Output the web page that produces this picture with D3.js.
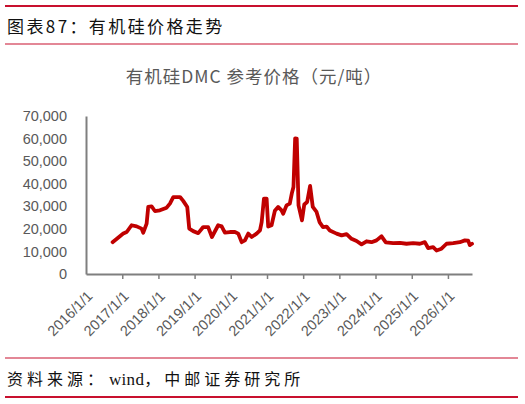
<!DOCTYPE html>
<html>
<head>
<meta charset="utf-8">
<script src="https://cdn.jsdelivr.net/npm/d3@7"></script>
<style>
    body { margin: 0; background: #fff; }
    svg { display: block; }
</style>
</head>
<body>
<script>
"use strict";

// DMC price, yuan/ton
const dates = [
    "2016-09-25", "2016-11-20", "2017-01-11", "2017-02-15", "2017-04-05", "2017-05-26",
    "2017-07-15", "2017-08-01", "2017-09-04", "2017-09-20", "2017-10-24", "2017-11-26",
    "2018-01-16", "2018-03-25", "2018-04-27", "2018-05-31", "2018-08-07", "2018-09-08",
    "2018-10-19", "2018-11-08", "2018-12-18", "2019-02-07", "2019-03-29", "2019-05-18",
    "2019-06-25", "2019-08-27", "2019-10-01", "2019-11-03", "2019-12-23", "2020-02-12",
    "2020-03-17", "2020-04-20", "2020-05-23", "2020-06-26", "2020-07-30", "2020-09-18",
    "2020-10-22", "2020-11-08", "2020-12-01", "2020-12-28", "2021-01-13", "2021-02-16",
    "2021-03-21", "2021-04-23", "2021-05-28", "2021-06-13", "2021-07-17", "2021-08-19",
    "2021-09-10", "2021-09-25", "2021-10-12", "2021-10-28", "2021-11-15", "2021-12-20",
    "2022-01-12", "2022-02-10", "2022-03-12", "2022-04-08", "2022-05-16", "2022-06-15",
    "2022-07-20", "2022-08-25", "2022-09-27", "2022-12-04", "2023-01-24", "2023-03-15",
    "2023-05-04", "2023-06-24", "2023-08-13", "2023-10-03", "2023-11-22", "2024-01-11",
    "2024-03-02", "2024-04-14", "2024-06-27", "2024-09-03", "2024-11-09", "2025-01-15",
    "2025-03-24", "2025-05-13", "2025-06-15", "2025-08-05", "2025-09-08", "2025-10-28",
    "2025-12-18", "2026-02-23", "2026-05-01", "2026-06-21", "2026-07-24", "2026-08-10",
    "2026-09-01"
];
const prices = [
    14100, 16100, 17900, 18600, 21600, 21100,
    20100, 18300, 22300, 29700, 30000, 27900,
    28200, 29400, 31200, 34100, 34100, 32400,
    29700, 20100, 19000, 18100, 20800, 20800,
    16400, 21600, 21100, 18300, 18600, 18600,
    17900, 14100, 14900, 17900, 16400, 17900,
    19300, 23000, 33400, 33400, 21000, 21600,
    28000, 29700, 28200, 26700, 30400, 31200,
    36000, 38500, 60100, 60000, 30400, 23800,
    30800, 31900, 39000, 29700, 27500, 23000,
    20800, 21000, 19300, 17900, 17100, 17700,
    15600, 14600, 13100, 14500, 14100, 14900,
    16700, 14000, 13700, 13800, 13400, 13700,
    13400, 14100, 11500, 11900, 10400, 11200,
    13400, 13700, 14100, 14900, 14800, 12800,
    13400
];
const yTicks = [0, 10000, 20000, 30000, 40000, 50000, 60000, 70000];
const xTickYears = [2016, 2017, 2018, 2019, 2020, 2021, 2022, 2023, 2024, 2025, 2026];

const figTitle = "图表87：有机硅价格走势";
const chartTitle = "有机硅DMC 参考价格（元/吨）";
// source line split so the latin word keeps tight spacing
const sourceParts = ["资料来源：", "wind", "，中邮证券研究所"];

(function(){
    let svgContainer = "";

    const measurements = {
        width: 525,
        height: 404,
        left: 86,
        right: 472,
        top: 116,
        bottom: 274
    }

    const red = "#c8102e";
    const grey = "#595959";
    const cjk = "'Noto Sans CJK SC', 'Noto Sans', sans-serif";

    window.onload = function() {
        svgContainer = d3.select('body').append("svg")
            .attr('width', measurements.width)
            .attr('height', measurements.height);
        makeFrame();
        makeChart();
    }

    function makeFrame() {
        // red rules of the report page
        const rules = [[6, 2.2], [44, 1.2], [358, 1.2], [397, 2.2]];
        rules.forEach((r) => {
            svgContainer.append('line')
                .attr('x1', 5).attr('x2', 518)
                .attr('y1', r[0]).attr('y2', r[0])
                .attr('stroke', red)
                .attr('stroke-width', r[1]);
        });

        svgContainer.append('text')
            .attr('x', 7)
            .attr('y', 33)
            .style('font-family', cjk)
            .style('font-size', '17px')
            .style('letter-spacing', '2.4px')
            .attr('fill', '#111')
            .text(figTitle);

        let src = svgContainer.append('text')
            .attr('x', 7)
            .attr('y', 385)
            .style('font-family', "'Liberation Serif', 'Noto Sans CJK SC', serif")
            .style('font-size', '16px')
            .attr('fill', '#111');
        src.selectAll('tspan')
            .data(sourceParts)
            .enter()
            .append('tspan')
            .style('letter-spacing', (d, i) => i === 1 ? '0.3px' : '4px')
            .attr('dx', (d, i) => i === 1 ? 2 : 0)
            .style('font-size', (d, i) => i === 1 ? '17px' : '16px')
            .text((d) => d);

        svgContainer.append('text')
            .attr('x', 254)
            .attr('y', 83)
            .attr('text-anchor', 'middle')
            .style('font-family', cjk)
            .style('font-size', '17.5px')
            .style('letter-spacing', '1px')
            .attr('fill', grey)
            .text(chartTitle);
    }

    function makeChart() {
        const parse = d3.timeParse("%Y-%m-%d");
        const data = dates.map((d, i) => ({date: parse(d), value: prices[i]}));

        let scaleX = d3.scaleTime()
            .domain([new Date(2016, 0, 1), new Date(2026, 8, 1)])
            .range([measurements.left, measurements.right]);

        let scaleY = d3.scaleLinear()
            .domain([0, 70000])
            .range([measurements.bottom, measurements.top]);

        // y axis: labels only plus a plain line
        let yAxis = d3.axisLeft()
            .scale(scaleY)
            .tickValues(yTicks)
            .tickSize(0)
            .tickPadding(19)
            .tickFormat(d3.format(","));

        let gy = svgContainer.append('g')
            .attr('transform', 'translate(' + measurements.left + ',0)')
            .call(yAxis);
        gy.select('.domain')
            .attr('stroke', '#7f7f7f')
            .attr('stroke-width', 2);
        gy.selectAll('text')
            .attr('fill', grey)
            .style('font-family', "'Liberation Sans', Arial, sans-serif")
            .style('font-size', '14.5px');

        let xAxis = d3.axisBottom()
            .scale(scaleX)
            .tickValues(xTickYears.map((y) => new Date(y, 0, 1)))
            .tickSizeOuter(0)
            .tickSizeInner(5)
            .tickFormat(d3.timeFormat("%Y/%-m/%-d"));

        let gx = svgContainer.append('g')
            .attr('transform', 'translate(0,' + measurements.bottom + ')')
            .call(xAxis);
        gx.select('.domain')
            .attr('stroke', '#7f7f7f')
            .attr('stroke-width', 2);
        gx.selectAll('.tick line')
            .attr('stroke', '#7f7f7f')
            .attr('stroke-width', 1.5);
        gx.selectAll('.tick').filter((d, i) => i === 0).select('line').remove();
        gx.selectAll('text')
            .attr('fill', grey)
            .style('font-family', "'Liberation Sans', Arial, sans-serif")
            .style('font-size', '14.5px')
            .attr('text-anchor', 'end')
            .attr('dy', null)
            .attr('y', 0)
            .attr('transform', 'translate(7,23)rotate(-45)');

        const line = d3.line()
            .x((d) => scaleX(d.date))
            .y((d) => scaleY(d.value));

        svgContainer.append('path')
            .datum(data)
            .attr('d', line)
            .attr('fill', 'none')
            .attr('stroke', '#c00000')
            .attr('stroke-width', 3.8)
            .attr('stroke-linejoin', 'round')
            .attr('stroke-linecap', 'round');
    }
})()
</script>
</body>
</html>
